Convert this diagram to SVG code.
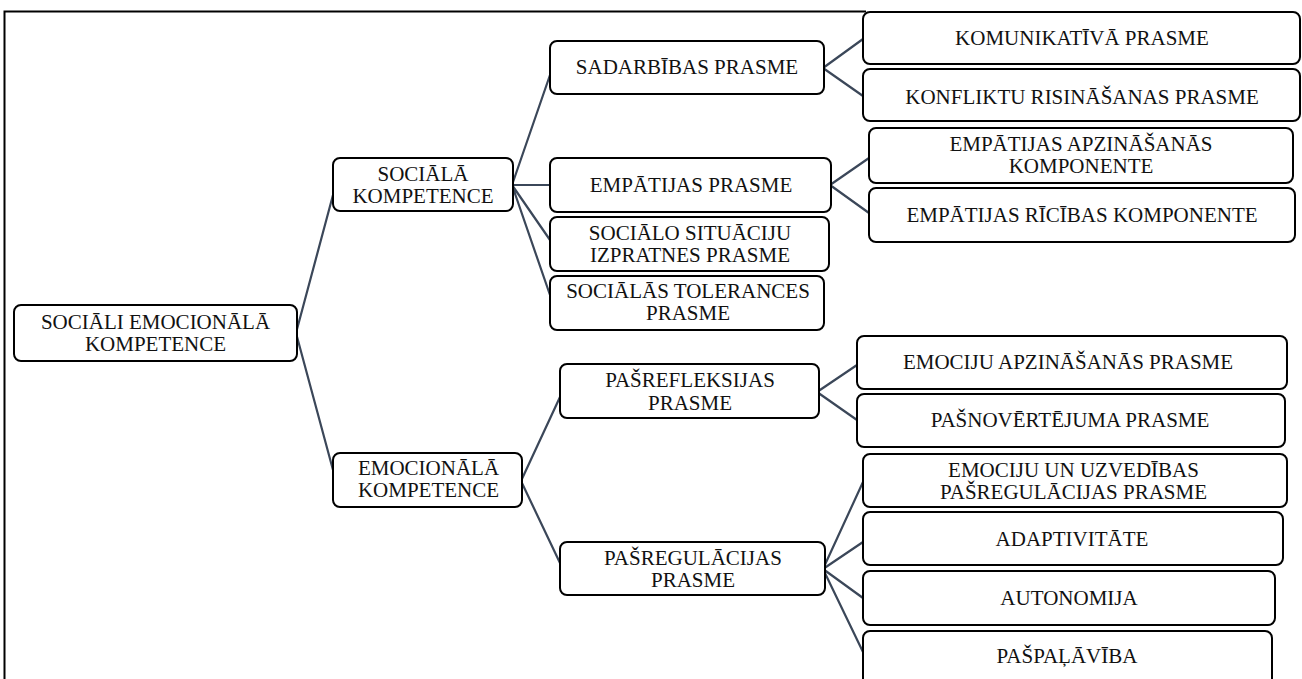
<svg xmlns="http://www.w3.org/2000/svg" width="1302" height="679" viewBox="0 0 1302 679">
<style>
.box{fill:#fff;stroke:#000;stroke-width:2}
text{font-family:'Liberation Serif','Times New Roman',Times,serif;font-size:21px;fill:#111;text-anchor:middle}
.c{stroke:#3b4759;stroke-width:2.2;fill:none}
</style>
<rect width="1302" height="679" fill="#fff"/>
<path d="M4.5,679 V11.5 H866" fill="none" stroke="#000" stroke-width="2"/>
<g id="connectors">
<path class="c" d="M296,333 L333,195 M296,333 L333,470"/>
<path class="c" d="M512,185 L550,75 M512,185 L550,185 M512,185 L550,240 M512,185 L550,295"/>
<path class="c" d="M823,68 L863,39 M823,68 L863,96"/>
<path class="c" d="M830,185 L869,158 M830,185 L869,213"/>
<path class="c" d="M521,481 L560,397 M521,481 L560,563"/>
<path class="c" d="M817,392 L857,365 M817,392 L857,420"/>
<path class="c" d="M823,569 L863,482 M823,569 L863,542 M823,569 L863,598 M823,569 L863,652"/>
</g>
<g font-family="Liberation Serif, serif" font-size="21">
<g id="n-root"><rect class="box" x="14" y="305" width="283" height="56" rx="7"/><text x="155.5" y="328.5">SOCIĀLI EMOCIONĀLĀ</text><text x="155.5" y="351">KOMPETENCE</text></g>
<g id="n-soc"><rect class="box" x="333" y="158" width="180" height="53" rx="7"/><text x="423" y="180.5">SOCIĀLĀ</text><text x="423" y="202.5">KOMPETENCE</text></g>
<g id="n-emo"><rect class="box" x="333" y="453" width="189" height="54" rx="7"/><text x="428.5" y="475">EMOCIONĀLĀ</text><text x="428.5" y="497">KOMPETENCE</text></g>
<g id="n-sad"><rect class="box" x="550" y="41" width="274" height="53" rx="7"/><text x="687" y="74">SADARBĪBAS PRASME</text></g>
<g id="n-emp"><rect class="box" x="550" y="158" width="281" height="54" rx="7"/><text x="691" y="192">EMPĀTIJAS PRASME</text></g>
<g id="n-sit"><rect class="box" x="550" y="217" width="279" height="54" rx="7"/><text x="690" y="240">SOCIĀLO SITUĀCIJU</text><text x="690" y="262">IZPRATNES PRASME</text></g>
<g id="n-tol"><rect class="box" x="550" y="276" width="274" height="54" rx="7"/><text x="688" y="298">SOCIĀLĀS TOLERANCES</text><text x="688" y="320">PRASME</text></g>
<g id="n-refl"><rect class="box" x="560" y="364" width="259" height="54" rx="7"/><text x="690" y="387">PAŠREFLEKSIJAS</text><text x="690" y="410">PRASME</text></g>
<g id="n-reg"><rect class="box" x="560" y="542" width="265" height="53" rx="7"/><text x="693" y="565">PAŠREGULĀCIJAS</text><text x="693" y="587">PRASME</text></g>
<g id="n-kom"><rect class="box" x="863" y="12" width="437" height="52" rx="7"/><text x="1082" y="45">KOMUNIKATĪVĀ PRASME</text></g>
<g id="n-konf"><rect class="box" x="863" y="69" width="437" height="52" rx="7"/><text x="1082" y="104">KONFLIKTU RISINĀŠANAS PRASME</text></g>
<g id="n-empapz"><rect class="box" x="869" y="128" width="424" height="55" rx="7"/><text x="1081" y="151">EMPĀTIJAS APZINĀŠANĀS</text><text x="1081" y="173">KOMPONENTE</text></g>
<g id="n-empric"><rect class="box" x="869" y="188" width="426" height="54" rx="7"/><text x="1082" y="222">EMPĀTIJAS RĪCĪBAS KOMPONENTE</text></g>
<g id="n-emoapz"><rect class="box" x="857" y="336" width="430" height="53" rx="7"/><text x="1068" y="369">EMOCIJU APZINĀŠANĀS PRASME</text></g>
<g id="n-pasn"><rect class="box" x="857" y="394" width="428" height="53" rx="7"/><text x="1070" y="427">PAŠNOVĒRTĒJUMA PRASME</text></g>
<g id="n-emouzv"><rect class="box" x="863" y="454" width="424" height="53" rx="7"/><text x="1073.5" y="476.5">EMOCIJU UN UZVEDĪBAS</text><text x="1073.5" y="498.5">PAŠREGULĀCIJAS PRASME</text></g>
<g id="n-adapt"><rect class="box" x="863" y="512" width="420" height="53" rx="7"/><text x="1072" y="546">ADAPTIVITĀTE</text></g>
<g id="n-auto"><rect class="box" x="863" y="571" width="412" height="54" rx="7"/><text x="1069" y="605">AUTONOMIJA</text></g>
<g id="n-pasp"><rect class="box" x="863" y="631" width="409" height="60" rx="7"/><text x="1067" y="663">PAŠPAĻĀVĪBA</text></g>
</g>
</svg>
